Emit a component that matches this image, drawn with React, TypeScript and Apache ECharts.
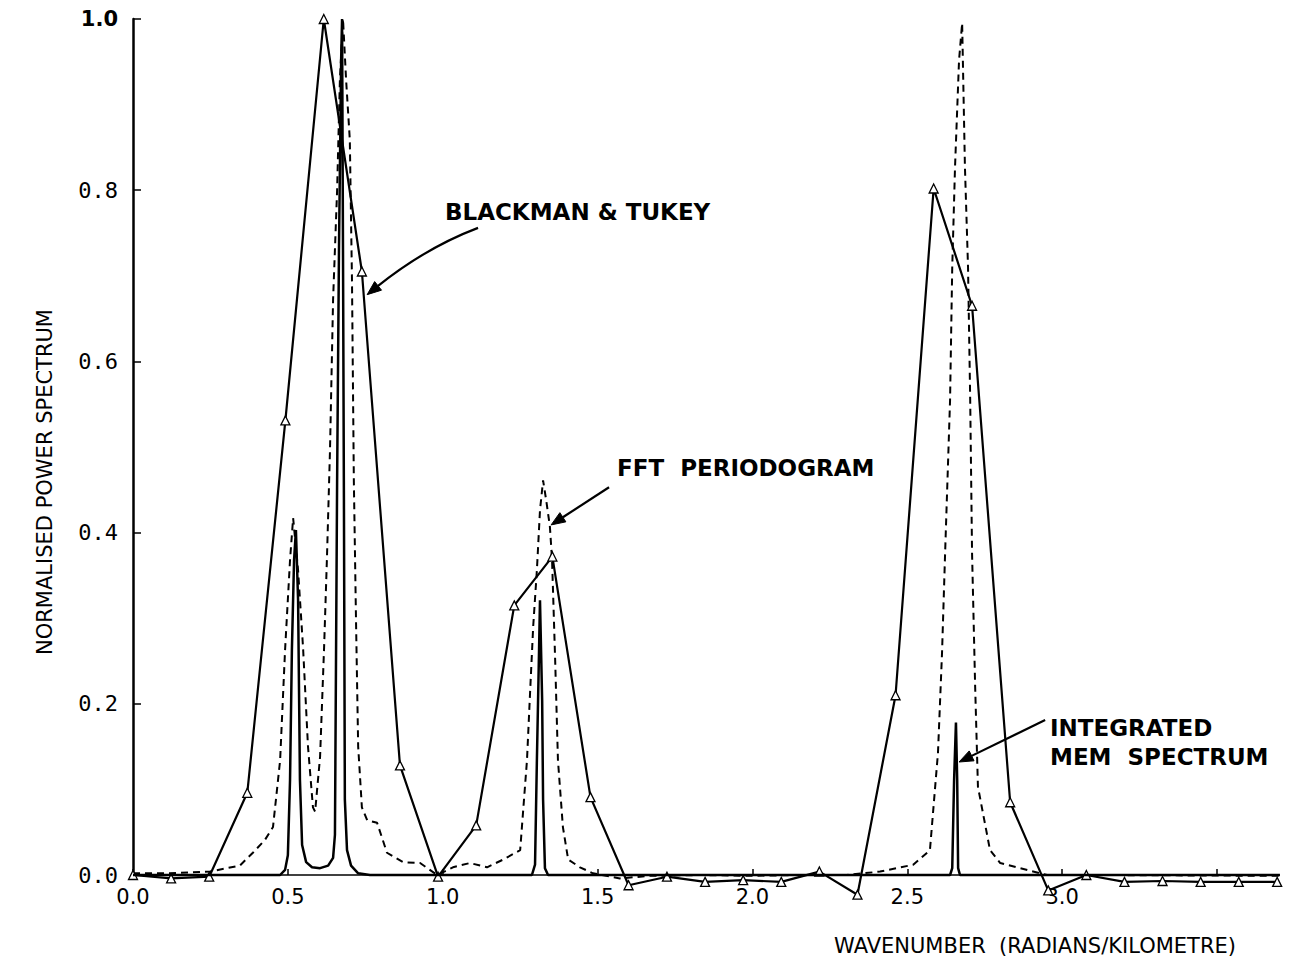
import React, { useEffect, useRef } from "react";
import * as echarts from "echarts";

// Blackman & Tukey estimate (solid line with triangle markers)
const BT_X = [0, 0.123, 0.246, 0.369, 0.492, 0.616, 0.739, 0.862, 0.985, 1.108, 1.231, 1.354, 1.477, 1.6, 1.724, 1.847, 1.97, 2.093, 2.216, 2.339, 2.462, 2.585, 2.709, 2.832, 2.955, 3.078, 3.201, 3.324, 3.447, 3.57, 3.694];
const BT_Y = [0.0, -0.004, -0.002, 0.096, 0.531, 1.0, 0.705, 0.128, -0.002, 0.058, 0.315, 0.372, 0.091, -0.012, -0.002, -0.008, -0.006, -0.008, 0.004, -0.023, 0.21, 0.802, 0.665, 0.085, -0.018, 0.0, -0.008, -0.007, -0.008, -0.008, -0.008];

// FFT periodogram (dashed line)
const FFT_X = [0, 0.119, 0.249, 0.345, 0.387, 0.426, 0.452, 0.475, 0.491, 0.507, 0.517, 0.533, 0.549, 0.565, 0.581, 0.588, 0.604, 0.617, 0.626, 0.636, 0.646, 0.659, 0.668, 0.678, 0.688, 0.7, 0.707, 0.713, 0.72, 0.727, 0.739, 0.756, 0.788, 0.82, 0.872, 0.927, 0.982, 1.033, 1.088, 1.143, 1.195, 1.25, 1.272, 1.282, 1.292, 1.304, 1.314, 1.324, 1.334, 1.346, 1.353, 1.363, 1.372, 1.388, 1.405, 1.443, 1.485, 1.572, 1.669, 1.831, 1.992, 2.154, 2.305, 2.412, 2.519, 2.573, 2.599, 2.612, 2.622, 2.638, 2.645, 2.654, 2.667, 2.677, 2.686, 2.696, 2.703, 2.709, 2.719, 2.728, 2.767, 2.8, 2.864, 2.951, 3.122, 3.703];
const FFT_Y = [0.002, 0.002, 0.004, 0.011, 0.026, 0.041, 0.056, 0.134, 0.263, 0.368, 0.417, 0.356, 0.266, 0.15, 0.079, 0.074, 0.138, 0.266, 0.368, 0.496, 0.672, 0.8, 0.929, 1.0, 0.929, 0.859, 0.695, 0.461, 0.298, 0.15, 0.079, 0.064, 0.061, 0.026, 0.015, 0.014, 0.0, 0.009, 0.014, 0.009, 0.018, 0.029, 0.134, 0.213, 0.29, 0.356, 0.426, 0.461, 0.438, 0.407, 0.368, 0.251, 0.134, 0.056, 0.018, 0.009, 0.002, -0.004, -0.001, 0.0, -0.001, 0.0, 0.0, 0.004, 0.012, 0.029, 0.143, 0.259, 0.376, 0.555, 0.71, 0.827, 0.952, 0.995, 0.827, 0.71, 0.555, 0.376, 0.22, 0.103, 0.029, 0.014, 0.008, 0.0, 0.0, -0.001];

// Integrated MEM spectrum (solid line, sharp peaks)
const MEM_X = [0, 0.475, 0.491, 0.5, 0.507, 0.513, 0.52, 0.526, 0.533, 0.539, 0.546, 0.559, 0.578, 0.604, 0.63, 0.646, 0.652, 0.659, 0.665, 0.672, 0.675, 0.678, 0.681, 0.684, 0.691, 0.704, 0.727, 0.765, 1.288, 1.298, 1.304, 1.311, 1.314, 1.321, 1.324, 1.33, 1.34, 2.638, 2.645, 2.651, 2.657, 2.661, 2.664, 2.67, 3.703];
const MEM_Y = [0, 0, 0.006, 0.023, 0.111, 0.263, 0.368, 0.403, 0.321, 0.111, 0.035, 0.015, 0.009, 0.008, 0.011, 0.02, 0.047, 0.461, 0.73, 0.952, 1.0, 0.73, 0.438, 0.088, 0.029, 0.011, 0.002, 0, 0, 0.012, 0.134, 0.263, 0.321, 0.204, 0.088, 0.008, 0, 0, 0.008, 0.111, 0.178, 0.111, 0.008, 0, 0];

const X_LABELS = ["0.0", "0.5", "1.0", "1.5", "2.0", "2.5", "3.0"];
const Y_LABELS = ["0.0", "0.2", "0.4", "0.6", "0.8", "1.0"];

const zip = (xs: number[], ys: number[]) => xs.map((x, i) => [x, ys[i]]);

export default function App() {
  const ref = useRef<HTMLDivElement>(null);

  useEffect(() => {
    if (!ref.current) return;
    const chart = echarts.init(ref.current, null, { renderer: "svg" });
    const option: any = {
      animation: false,
      backgroundColor: "#ffffff",
      grid: { left: 133, right: 11, top: 19, bottom: 90, containLabel: false, outerBoundsMode: "none" },
      xAxis: {
        type: "value",
        min: 0,
        max: 3.7,
        interval: 0.5,
        axisLine: { show: true, onZero: false, lineStyle: { color: "#000", width: 1.5 } },
        axisTick: { show: true, inside: true, length: 6, lineStyle: { color: "#000", width: 1.5 } },
        splitLine: { show: false },
        axisLabel: {
          margin: 11,
          color: "#000",
          fontFamily: "DejaVu Sans",
          fontSize: 21,
          showMaxLabel: false,
          formatter: (v: number) => {
            const s = v.toFixed(1);
            return X_LABELS.includes(s) ? s : "";
          },
        },
      },
      yAxis: {
        type: "value",
        min: 0,
        max: 1,
        interval: 0.2,
        axisLine: { show: true, lineStyle: { color: "#000", width: 2.5 } },
        axisTick: { show: true, inside: true, length: 8, lineStyle: { color: "#000", width: 1.5 } },
        splitLine: { show: false },
        axisLabel: {
          margin: 15,
          color: "#000",
          fontFamily: "DejaVu Sans Mono",
          fontSize: 22,
          formatter: (v: number) => {
            const s = v.toFixed(1);
            if (!Y_LABELS.includes(s)) return "";
            return s === "1.0" ? "{b|" + s + "}" : s;
          },
          rich: { b: { fontWeight: "bold", fontFamily: "DejaVu Sans", fontSize: 21, color: "#000" } },
        },
      },
      series: [
        {
          name: "BLACKMAN & TUKEY",
          type: "line",
          data: zip(BT_X, BT_Y),
          clip: false,
          symbol: "triangle",
          symbolSize: 9,
          showSymbol: true,
          itemStyle: { color: "#fff", borderColor: "#000", borderWidth: 1.3 },
          lineStyle: { color: "#000", width: 2.2, type: "solid" },
          z: 3,
        },
        {
          name: "FFT PERIODOGRAM",
          type: "line",
          data: zip(FFT_X, FFT_Y),
          clip: false,
          showSymbol: false,
          lineStyle: { color: "#000", width: 2, type: [7, 5] },
          z: 2,
        },
        {
          name: "INTEGRATED MEM SPECTRUM",
          type: "line",
          data: zip(MEM_X, MEM_Y),
          clip: false,
          showSymbol: false,
          lineStyle: { color: "#000", width: 2.5, type: "solid" },
          z: 4,
        },
      ],
    };
    chart.setOption(option);

    const px = (p: number[]) => chart.convertToPixel({ xAxisIndex: 0, yAxisIndex: 0 }, p) as number[];

    const arrow = (tailD: number[], headD: number[], ctrlD?: number[]) => {
      const T = px(tailD);
      const H = px(headD);
      const C = ctrlD ? px(ctrlD) : null;
      const from = C || T;
      let dx = H[0] - from[0];
      let dy = H[1] - from[1];
      const len = Math.hypot(dx, dy) || 1;
      dx /= len;
      dy /= len;
      const hl = 14;
      const hw = 5.5;
      const B = [H[0] - dx * hl, H[1] - dy * hl];
      const nx = -dy;
      const ny = dx;
      const body: any = C
        ? {
            type: "bezierCurve",
            shape: { x1: T[0], y1: T[1], x2: B[0], y2: B[1], cpx1: C[0], cpy1: C[1] },
            style: { stroke: "#000", lineWidth: 2.2, fill: null },
            z: 10,
          }
        : {
            type: "line",
            shape: { x1: T[0], y1: T[1], x2: B[0], y2: B[1] },
            style: { stroke: "#000", lineWidth: 2.2 },
            z: 10,
          };
      const head = {
        type: "polygon",
        shape: { points: [H, [B[0] + nx * hw, B[1] + ny * hw], [B[0] - nx * hw, B[1] - ny * hw]] },
        style: { fill: "#000", stroke: "#000", lineWidth: 1 },
        z: 10,
      };
      return [body, head];
    };

    const labelFont = "bold 23px 'DejaVu Sans'";
    const graphic: any[] = [
      ...arrow([1.114, 0.756], [0.756, 0.678], [0.946, 0.733]),
      ...arrow([1.537, 0.453], [1.35, 0.409]),
      ...arrow([2.945, 0.181], [2.667, 0.132]),
      {
        type: "text",
        style: { text: "BLACKMAN & TUKEY", x: 445, y: 212, font: labelFont, fill: "#000", textAlign: "left", textVerticalAlign: "middle" },
        z: 10,
      },
      {
        type: "text",
        style: { text: "FFT  PERIODOGRAM", x: 617, y: 468, font: labelFont, fill: "#000", textAlign: "left", textVerticalAlign: "middle" },
        z: 10,
      },
      {
        type: "text",
        style: { text: "INTEGRATED", x: 1050, y: 728, font: labelFont, fill: "#000", textAlign: "left", textVerticalAlign: "middle" },
        z: 10,
      },
      {
        type: "text",
        style: { text: "MEM  SPECTRUM", x: 1050, y: 757, font: labelFont, fill: "#000", textAlign: "left", textVerticalAlign: "middle" },
        z: 10,
      },
      {
        type: "text",
        x: 45,
        y: 482,
        rotation: Math.PI / 2,
        style: { text: "NORMALISED POWER SPECTRUM", x: 0, y: 0, font: "21px 'DejaVu Sans'", fill: "#000", textAlign: "center", textVerticalAlign: "middle" },
        z: 10,
      },
      {
        type: "text",
        style: { text: "WAVENUMBER  (RADIANS/KILOMETRE)", x: 1035, y: 946, font: "21px 'DejaVu Sans'", fill: "#000", textAlign: "center", textVerticalAlign: "middle" },
        z: 10,
      },
    ];
    chart.setOption({ graphic });

    return () => chart.dispose();
  }, []);

  return (
    <div
      ref={ref}
      style={{ position: "fixed", left: 0, top: 0, width: 1290, height: 965, background: "#fff" }}
    />
  );
}
